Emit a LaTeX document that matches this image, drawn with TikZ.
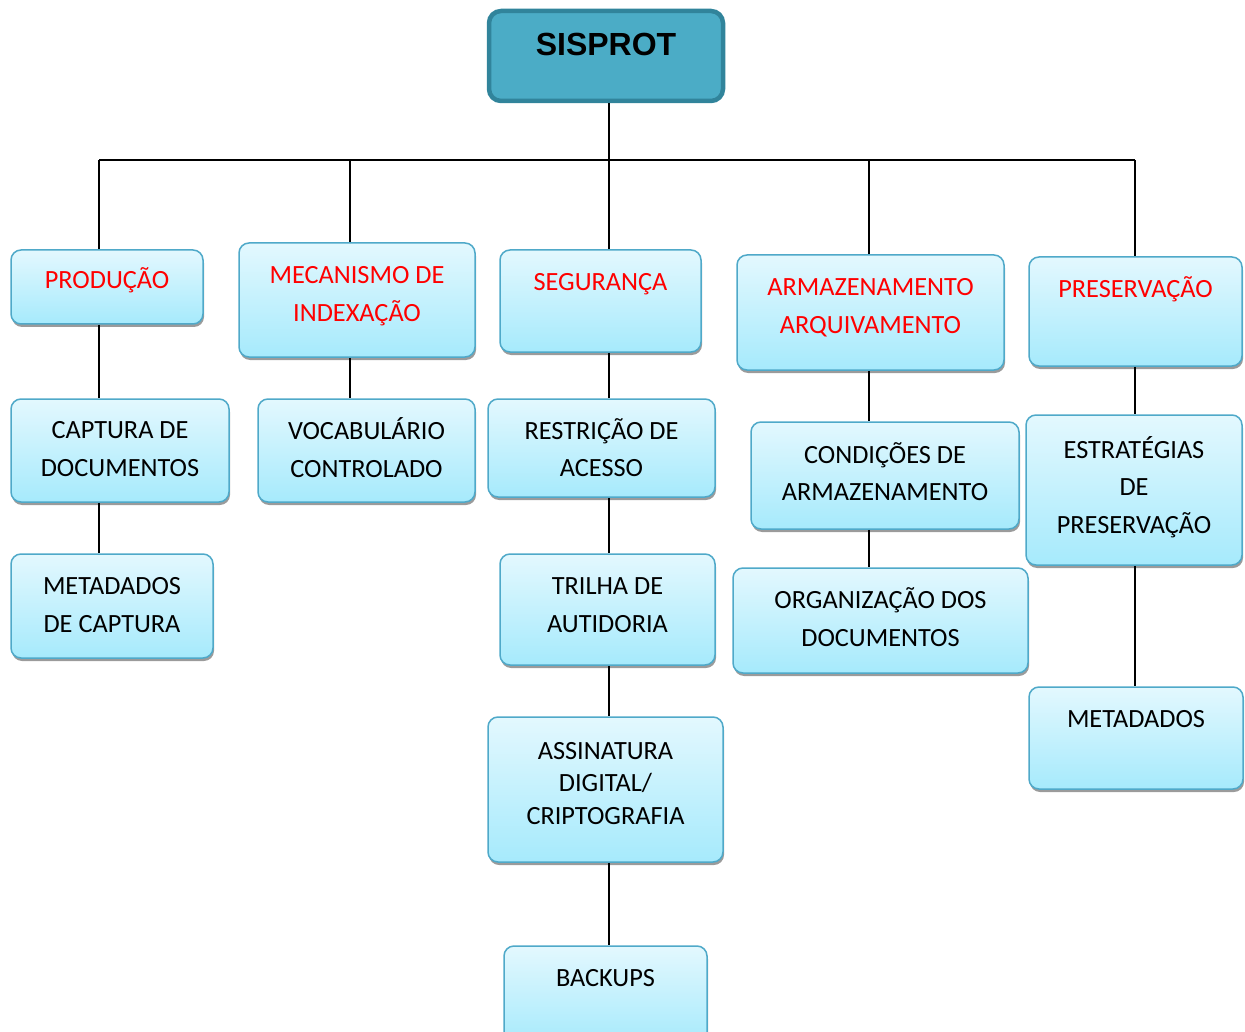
\documentclass[tikz,border=0pt]{standalone}
\usepackage{fontspec}
\setmainfont{Carlito}
\newfontfamily\arialfont{Liberation Sans}
\usetikzlibrary{shadows}
\definecolor{bxtop}{HTML}{E3F8FE}
\definecolor{bxbot}{HTML}{A6EAFC}
\definecolor{bxline}{HTML}{4FA9C9}
\definecolor{rootfill}{HTML}{4BACC6}
\definecolor{rootline}{HTML}{31849B}
\definecolor{redtxt}{HTML}{FF0000}
\tikzset{
 box/.style={draw=bxline, line width=1.5pt, rounded corners=10pt, top color=bxtop, bottom color=bxbot,
   drop shadow={shadow xshift=1pt, shadow yshift=-3pt, opacity=0.6, fill=black!65}, inner sep=0},
 lbl/.style={font=\fontsize{26.3}{30}\selectfont, anchor=base, inner sep=0},
 conn/.style={line width=1.5pt, black},
}
\newcommand\bx[7]{%
 \node[box, minimum width={(#4-#2)*1pt}, minimum height={(#5-#3)*1pt}] (#1) at ({(#2+#4)/2},{(#3+#5)/2}) {};
 \foreach \yy/\ll [count=\i] in {#7} \node[lbl, text=#6] (#1-t\i) at ({(#2+#4)/2},{\yy+8.4}) {\ll};
}
\begin{document}
\begin{tikzpicture}[x=1pt,y=-1pt]
\useasboundingbox (0,0) rectangle (1245,1032);
\coordinate (c1) at (99,160);
\coordinate (c2) at (350,160);
\coordinate (c3) at (609,160);
\coordinate (c4) at (869,160);
\coordinate (c5) at (1135,160);
% root
\node[draw=rootline, line width=4.5pt, fill=rootfill, rounded corners=12pt, minimum width=234pt, minimum height=90pt, inner sep=0] (root) at (606,56) {};
\node[anchor=base, inner sep=0, font=\arialfont\bfseries\fontsize{32}{36}\selectfont] (root-t) at (606,55.5) {SISPROT};
% boxes
\bx{prod}{11}{250}{203}{324}{redtxt}{280/PRODUÇÃO}
\bx{mec}{239}{243}{475}{357}{redtxt}{275/MECANISMO DE, 313/INDEXAÇÃO}
\bx{seg}{500}{250}{701}{352}{redtxt}{282/SEGURANÇA}
\bx{arm}{737}{255}{1004}{370}{redtxt}{287/ARMAZENAMENTO, 325/ARQUIVAMENTO}
\bx{pres}{1029}{257}{1242}{366}{redtxt}{289/PRESERVAÇÃO}
\bx{cap}{11}{399}{229}{502}{black}{430/CAPTURA DE, 468/DOCUMENTOS}
\bx{metc}{11}{554}{213}{658}{black}{586/METADADOS, 624/DE CAPTURA}
\bx{voc}{258}{399}{475}{502}{black}{431/VOCABULÁRIO, 469/CONTROLADO}
\bx{res}{488}{399}{715}{497}{black}{431/RESTRIÇÃO DE, 468/ACESSO}
\bx{tri}{500}{554}{715}{665}{black}{586/TRILHA DE, 624/AUTIDORIA}
\bx{ass}{488}{717}{723}{862}{black}{751/ASSINATURA, 783/{DIGITAL/}, 816/CRIPTOGRAFIA}
\bx{bak}{504}{946}{707}{1045}{black}{978/BACKUPS}
\bx{cond}{751}{422}{1019}{529}{black}{455/CONDIÇÕES DE, 492/ARMAZENAMENTO}
\bx{org}{733}{568}{1028}{673}{black}{600/ORGANIZAÇÃO DOS, 638/DOCUMENTOS}
\bx{est}{1026}{415}{1242}{565}{black}{450/ESTRATÉGIAS, 487/DE, 525/PRESERVAÇÃO}
\bx{meta}{1029}{687}{1243}{789}{black}{719/METADADOS}
% connectors
\draw[conn] (c1) -- (c5);
\draw[conn] (root.south -| c3) -- (c3);
\draw[conn] (c1) -- (c1 |- prod.north);
\draw[conn] (c1 |- prod.south) -- (c1 |- cap.north);
\draw[conn] (c1 |- cap.south) -- (c1 |- metc.north);
\draw[conn] (c2) -- (c2 |- mec.north);
\draw[conn] (c2 |- mec.south) -- (c2 |- voc.north);
\draw[conn] (c3) -- (c3 |- seg.north);
\draw[conn] (c3 |- seg.south) -- (c3 |- res.north);
\draw[conn] (c3 |- res.south) -- (c3 |- tri.north);
\draw[conn] (c3 |- tri.south) -- (c3 |- ass.north);
\draw[conn] (c3 |- ass.south) -- (c3 |- bak.north);
\draw[conn] (c4) -- (c4 |- arm.north);
\draw[conn] (c4 |- arm.south) -- (c4 |- cond.north);
\draw[conn] (c4 |- cond.south) -- (c4 |- org.north);
\draw[conn] (c5) -- (c5 |- pres.north);
\draw[conn] (c5 |- pres.south) -- (c5 |- est.north);
\draw[conn] (c5 |- est.south) -- (c5 |- meta.north);
\end{tikzpicture}
\end{document}
